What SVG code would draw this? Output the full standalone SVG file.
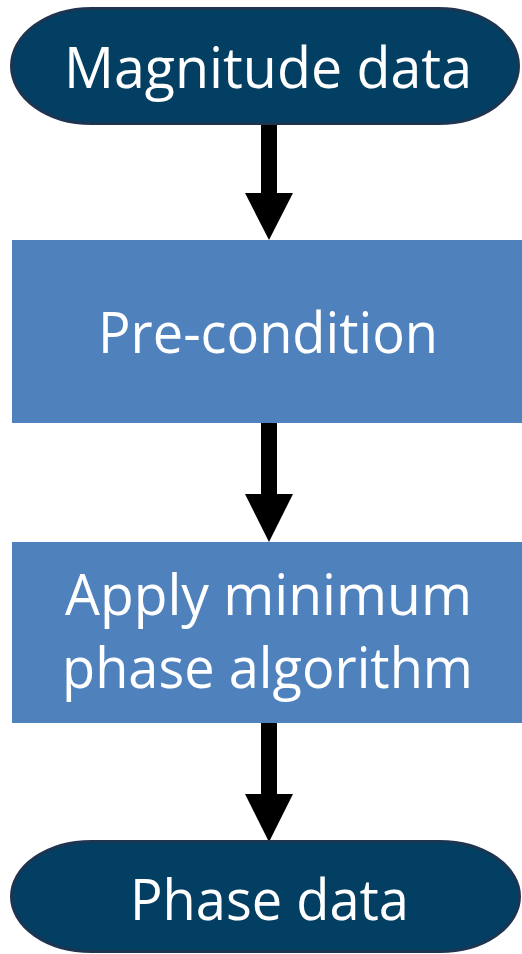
<svg xmlns="http://www.w3.org/2000/svg" width="522" height="954" viewBox="0 0 522 954">
  <style>
    .terminal { fill: #023F62; stroke: #1E3552; stroke-width: 3; }
    .process { fill: #4F81BD; }
    .label { fill: #FFFFFF; font-family: "Open Sans", "Noto Sans", "Liberation Sans", sans-serif; font-size: 56px; text-anchor: start; }
    .arrow { fill: #000000; }
  </style>
  <rect width="522" height="954" fill="#FFFFFF"/>

  <g id="connectors">
    <path class="arrow" d="M261,123 H277 V193 H293 L269,240 L245,193 H261 Z"/>
    <path class="arrow" d="M261,423 H277 V494 H293 L269,542 L245,494 H261 Z"/>
    <path class="arrow" d="M261,723 H277 V794 H293 L269,842 L245,794 H261 Z"/>
  </g>

  <g id="magnitude-data">
    <rect class="terminal" x="11.5" y="8.5" width="507" height="115" rx="80" ry="57.5"/>
    <text class="label" x="64" y="88" textLength="408" lengthAdjust="spacingAndGlyphs">Magnitude data</text>
  </g>

  <g id="pre-condition">
    <rect class="process" x="12" y="240" width="510" height="183"/>
    <text class="label" x="98" y="353" textLength="340" lengthAdjust="spacingAndGlyphs">Pre-condition</text>
  </g>

  <g id="apply-minimum-phase">
    <rect class="process" x="12" y="542" width="510" height="181"/>
    <text class="label" x="65" y="615" textLength="407" lengthAdjust="spacingAndGlyphs">Apply minimum</text>
    <text class="label" x="62" y="688" textLength="411" lengthAdjust="spacingAndGlyphs">phase algorithm</text>
  </g>

  <g id="phase-data">
    <rect class="terminal" x="11.5" y="841.5" width="508" height="110" rx="80" ry="55"/>
    <text class="label" x="130" y="920" textLength="279" lengthAdjust="spacingAndGlyphs">Phase data</text>
  </g>
</svg>
